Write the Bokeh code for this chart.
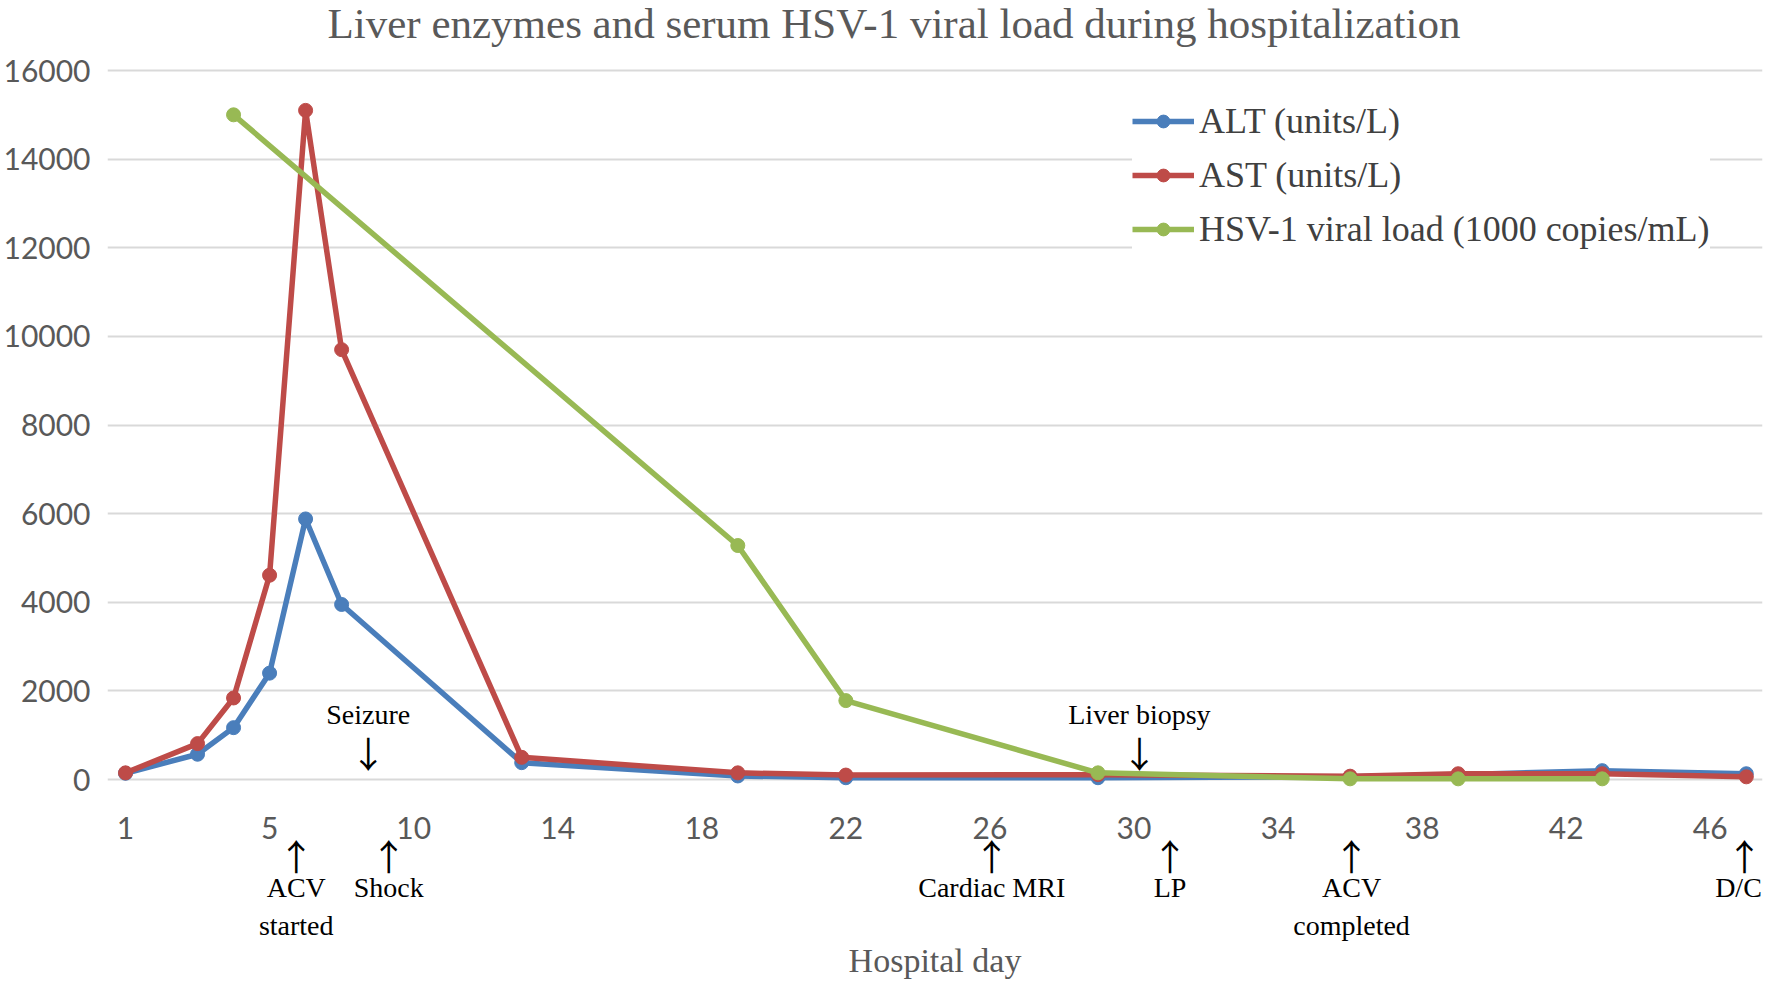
from bokeh.plotting import figure
from bokeh.models import Range1d, FixedTicker, Label, Legend, LegendItem
from bokeh.embed import file_html
from bokeh.resources import INLINE

# Category axis: hospital days (day 9 is not in the category list, as in the original)
categories = [1, 2, 3, 4, 5, 6, 7, 8] + list(range(10, 48))
tick_labels = ["1", "5", "10", "14", "18", "22", "26", "30", "34", "38", "42", "46"]
y_ticks = [0, 2000, 4000, 6000, 8000, 10000, 12000, 14000, 16000]

# Series
enzyme_days = [1, 3, 4, 5, 6, 7, 13, 19, 22, 29, 36, 39, 43, 47]
alt_values = [140, 570, 1170, 2400, 5880, 3950, 380, 80, 40, 40, 60, 110, 200, 130]
ast_values = [150, 810, 1840, 4610, 15100, 9700, 500, 150, 100, 110, 75, 130, 130, 60]
hsv_days = [4, 19, 22, 29, 36, 39, 43]
hsv_values = [15000, 5280, 1780, 150, 15, 15, 15]

# Event annotations (positions along the category axis)
events_below = ["ACV\nstarted", "Shock", "Cardiac MRI", "LP", "ACV\ncompleted", "D/C"]
events_below_pos = [5.74, 8.31, 25.05, 30.0, 35.04, 45.95]
events_above = ["Seizure", "Liver biopsy"]
events_above_pos = [7.74, 29.15]

TITLE = "Liver enzymes and serum HSV-1 viral load during hospitalization"


def cat_pos(day):
    return categories.index(day) + 1


SERIF = "Liberation Serif"
SANS = "Lato"
ARROW_FONT = "Noto Sans CJK JP"
GREY = "#595959"

# layout: plot frame spans the whole canvas height; 0..16000 occupies 709 px
W, H = 1766, 983
ZERO_Y, TOP_Y = 779, 70          # canvas px (from top) of value 0 and value 16000
units_per_px = 16000 / (ZERO_Y - TOP_Y)
y_lo = -(H - ZERO_Y) * units_per_px
y_hi = 16000 + TOP_Y * units_per_px

p = figure(width=W, height=H,
           x_range=Range1d(0.5, 46.45), y_range=Range1d(y_lo, y_hi),
           output_backend="svg", toolbar_location=None,
           min_border_left=100, min_border_right=4, min_border_top=0, min_border_bottom=0)
p.title.visible = False
p.outline_line_color = None
p.background_fill_color = "white"
p.border_fill_color = "white"

# Axes
p.xaxis.fixed_location = 0
p.xaxis.ticker = FixedTicker(ticks=[cat_pos(int(t)) for t in tick_labels])
p.xaxis.major_label_overrides = {cat_pos(int(t)): t for t in tick_labels}
p.xaxis.axis_label = "Hospital day"
p.xaxis.axis_label_text_font = SERIF
p.xaxis.axis_label_text_font_size = "34px"
p.xaxis.axis_label_text_font_style = "normal"
p.xaxis.axis_label_text_color = GREY
p.xaxis.axis_label_standoff = 100

p.yaxis.ticker = FixedTicker(ticks=y_ticks)

for ax in (p.xaxis, p.yaxis):
    ax.axis_line_color = None
    ax.major_tick_line_color = None
    ax.minor_tick_line_color = None
    ax.major_tick_out = 0
    ax.major_tick_in = 0
    ax.major_label_text_font = SANS
    ax.major_label_text_font_size = "30px"
    ax.major_label_text_color = GREY
p.xaxis.major_label_standoff = 37
p.yaxis.major_label_standoff = 17

p.xgrid.grid_line_color = None
p.ygrid.grid_line_color = "#D9D9D9"
p.ygrid.grid_line_width = 2

# Title (drawn as a text label above the 16000 gridline)
p.add_layout(Label(x=(0.5 + 46.45) / 2, y=16000, x_offset=-41, y_offset=47, text=TITLE,
                   text_align="center", text_baseline="alphabetic",
                   text_font=SERIF, text_font_size="43px", text_color=GREY))

# Series
series = [
    ("ALT (units/L)", enzyme_days, alt_values, "#4A7EBB"),
    ("AST (units/L)", enzyme_days, ast_values, "#BE4B48"),
    ("HSV-1 viral load (1000 copies/mL)", hsv_days, hsv_values, "#98B954"),
]
items = []
for name, days, vals, color in series:
    xs = [cat_pos(d) for d in days]
    ln = p.line(xs, vals, line_color=color, line_width=5.5)
    sc = p.scatter(xs, vals, size=14, fill_color=color, line_color=color)
    items.append(LegendItem(label=name, renderers=[ln, sc]))

legend = Legend(items=items, location=(1025, H - 251))
legend.label_text_font = SERIF
legend.label_text_font_size = "36px"
legend.label_text_color = "#404040"
legend.glyph_width = 62
legend.glyph_height = 32
legend.label_height = 44
legend.spacing = 10
legend.padding = 10
legend.margin = 0
legend.label_standoff = 5
legend.border_line_color = None
legend.background_fill_color = "white"
legend.background_fill_alpha = 1.0
p.add_layout(legend)

# Event annotations below the axis (arrow up, then text)
text_shift = [0, 0, 0, 0, 0, -6]
for txt, pos, dx in zip(events_below, events_below_pos, text_shift):
    p.add_layout(Label(x=pos, y=0, y_offset=-75, text="\u2191",
                       text_align="center", text_baseline="middle",
                       text_font=ARROW_FONT, text_font_size="36px", text_color="black"))
    p.add_layout(Label(x=pos, y=0, x_offset=dx, y_offset=-92, text=txt,
                       text_align="center", text_baseline="top", text_line_height=1.25,
                       text_font=SERIF, text_font_size="28px", text_color="black"))
# Event annotations above the axis (text, then arrow down)
for txt, pos in zip(events_above, events_above_pos):
    p.add_layout(Label(x=pos, y=0, y_offset=65, text=txt,
                       text_align="center", text_baseline="middle",
                       text_font=SERIF, text_font_size="28px", text_color="black"))
    p.add_layout(Label(x=pos, y=0, y_offset=28, text="\u2193",
                       text_align="center", text_baseline="middle",
                       text_font=ARROW_FONT, text_font_size="36px", text_color="black"))

open("out.html", "w").write(file_html(p, INLINE))
